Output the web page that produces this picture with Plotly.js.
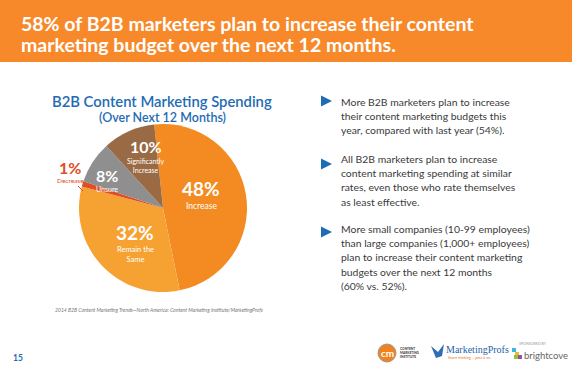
<!DOCTYPE html>
<html><head><meta charset="utf-8">
<script src="https://cdn.plot.ly/plotly-3.0.1.min.js"></script>
<style>html,body{margin:0;padding:0;background:#fff}#chart{width:572px;height:375px}</style>
</head><body><div id="chart"></div>
<script>
// ---- data ----
const categories = ['Increase', 'Remain the Same', 'Decrease', 'Unsure', 'Significantly Increase'];
const labelLines = [['Increase'], ['Remain the', 'Same'], ['Decrease'], ['Unsure'], ['Significantly', 'Increase']];
const shares = [48, 32, 1, 8, 10];
const headline = ['58% of B2B marketers plan to increase their content', 'marketing budget over the next 12 months.'];
const chartTitle = 'B2B Content Marketing Spending';
const chartSubtitle = '(Over Next 12 Months)';
const bullets = [
  ['More B2B marketers plan to increase', 'their content marketing budgets this', 'year, compared with last year (54%).'],
  ['All B2B marketers plan to increase', 'content marketing spending at similar', 'rates, even those who rate themselves', 'as least effective.'],
  ['More small companies (10-99 employees)', 'than large companies (1,000+ employees)', 'plan to increase their content marketing', 'budgets over the next 12 months', '(60% vs. 52%).']
];
const sourceNote = '2014 B2B Content Marketing Trends\u2014North America: Content Marketing Institute/MarketingProfs';
const pageNumber = '15';

// ---- styles ----
const W = 572, H = 375;
const px = x => x / W, py = y => 1 - y / H;
const sliceColors = ['#F38B22', '#F6A232', '#E04E27', '#8F8F8F', '#9A6A44'];
const orange = '#F7892B', blue = '#1E6CB3', textGray = '#3a3a3a';
const labelFont = 'Lato, "Open Sans", sans-serif';
const sized = (t, s) => '<span style="font-size:' + s + 'px">' + t + '</span>';

// label layout for each slice: x centre, and y of the seam between percent and sub-label
const labelX = [201, 135, 70, 107, 146.5];
const seamY = [200.5, 244, 176.5, 184.5, 156];
const labelColor = ['#fff', '#fff', '#E04E27', '#fff', '#fff'];
const pctSize = [19, 19, 16, 16, 16];
const subSize = [8.5, 7.5, 6.5, 7, 7];

const annotations = [];
annotations.push({
  text: headline.map(t => sized(t, 19.5)).join('<br>'), xref: 'paper', yref: 'paper', x: px(21), y: py(34),
  xanchor: 'left', yanchor: 'middle', showarrow: false, align: 'left', borderpad: 0, borderwidth: 0,
  font: {family: 'Lato, sans-serif', size: 16.2, color: '#fff', weight: 700}
});
annotations.push({text: chartTitle, xref: 'paper', yref: 'paper', x: px(162), y: py(101),
  xanchor: 'center', yanchor: 'middle', showarrow: false, borderwidth: 0,
  font: {family: labelFont, size: 14.8, color: blue, weight: 600}});
annotations.push({text: chartSubtitle, xref: 'paper', yref: 'paper', x: px(162), y: py(117),
  xanchor: 'center', yanchor: 'middle', showarrow: false, borderwidth: 0,
  font: {family: labelFont, size: 12.5, color: blue, weight: 600}});

shares.forEach((v, i) => {
  annotations.push({
    text: '<b>' + v + '%</b>', xref: 'paper', yref: 'paper', x: px(labelX[i]), y: py(seamY[i]),
    xanchor: 'center', yanchor: 'bottom', showarrow: false, borderpad: 0, borderwidth: 0,
    font: {family: labelFont, size: pctSize[i], color: labelColor[i]}
  });
  annotations.push({
    text: labelLines[i].join('<br>'), xref: 'paper', yref: 'paper', x: px(labelX[i]), y: py(seamY[i] + 0.6),
    xanchor: 'center', yanchor: 'top', showarrow: false, align: 'center', borderpad: 0, borderwidth: 0,
    font: {family: labelFont, size: subSize[i], color: labelColor[i]}
  });
});

const bulletCenters = [115.5, 180, 257];
bullets.forEach((lines, i) => annotations.push({
  text: lines.map(t => sized(t, 10.4)).join('<br>'), xref: 'paper', yref: 'paper', x: px(341), y: py(bulletCenters[i]),
  xanchor: 'left', yanchor: 'middle', showarrow: false, align: 'left', borderpad: 0, borderwidth: 0,
  font: {family: labelFont, size: 10.9, color: textGray}
}));
annotations.push({text: '<i>' + sourceNote + '</i>', xref: 'paper', yref: 'paper', x: px(159), y: py(310),
  xanchor: 'center', yanchor: 'middle', showarrow: false,
  font: {family: labelFont, size: 5.1, color: '#777'}});
annotations.push({text: '<b>' + pageNumber + '</b>', xref: 'paper', yref: 'paper', x: px(18), y: py(358),
  xanchor: 'center', yanchor: 'middle', showarrow: false,
  font: {family: labelFont, size: 8.5, color: blue}});
// logos (text parts)
annotations.push({text: '<b>cm</b>', xref: 'paper', yref: 'paper', x: px(387), y: py(353),
  xanchor: 'center', yanchor: 'middle', showarrow: false, font: {family: labelFont, size: 10, color: '#fff'}});
annotations.push({text: '<b>CONTENT<br>MARKETING<br>INSTITUTE</b>', xref: 'paper', yref: 'paper', x: px(398), y: py(353),
  xanchor: 'left', yanchor: 'middle', showarrow: false, align: 'left', font: {family: labelFont, size: 3.2, color: '#333'}});
annotations.push({text: 'MarketingProfs', xref: 'paper', yref: 'paper', x: px(444), y: py(349),
  xanchor: 'left', yanchor: 'middle', showarrow: false, font: {family: '"Liberation Serif", serif', size: 10, color: '#1d5fa8'}});
annotations.push({text: 'Smart thinking ... pass it on.', xref: 'paper', yref: 'paper', x: px(446), y: py(357.5),
  xanchor: 'left', yanchor: 'middle', showarrow: false, font: {family: labelFont, size: 3.6, color: '#E8772A'}});
annotations.push({text: 'SPONSORED BY', xref: 'paper', yref: 'paper', x: px(533), y: py(343),
  xanchor: 'center', yanchor: 'middle', showarrow: false, font: {family: labelFont, size: 3.6, color: '#999'}});
annotations.push({text: 'brightcove', xref: 'paper', yref: 'paper', x: px(522), y: py(355),
  xanchor: 'left', yanchor: 'middle', showarrow: false, font: {family: labelFont, size: 9.5, color: '#666'}});

const shapes = [
  {type: 'rect', xref: 'paper', yref: 'paper', x0: 0, x1: 1, y0: py(62), y1: 1, fillcolor: orange, line: {width: 0}, layer: 'below'},
  {type: 'line', xref: 'paper', yref: 'paper', x0: px(78), y0: py(186), x1: px(83), y1: py(191), line: {color: '#E04E27', width: 1}},
  {type: 'circle', xref: 'paper', yref: 'paper', x0: px(378), x1: px(396), y0: py(344), y1: py(362), fillcolor: '#F0831F', line: {color: '#9a9a9a', width: 1}},
  {type: 'path', xref: 'paper', yref: 'paper', fillcolor: '#2f6db5', line: {width: 0},
    path: `M ${px(431)},${py(346)} L ${px(438)},${py(352)} L ${px(444)},${py(344)} L ${px(442)},${py(356)} L ${px(436)},${py(358)} Z`},
  {type: 'rect', xref: 'paper', yref: 'paper', x0: px(512), x1: px(516), y0: py(348), y1: py(352), fillcolor: '#3bb6e0', line: {width: 0}},
  {type: 'rect', xref: 'paper', yref: 'paper', x0: px(515), x1: px(519), y0: py(352), y1: py(356), fillcolor: '#f5b82e', line: {width: 0}},
  {type: 'rect', xref: 'paper', yref: 'paper', x0: px(518), x1: px(522), y0: py(355), y1: py(359), fillcolor: '#9b4fa0', line: {width: 0}},
  {type: 'rect', xref: 'paper', yref: 'paper', x0: px(514), x1: px(518), y0: py(355), y1: py(359), fillcolor: '#8cc63f', line: {width: 0}}
];
[101, 164, 232].forEach(y => shapes.push({type: 'path', xref: 'paper', yref: 'paper', fillcolor: blue, line: {width: 0},
  path: `M ${px(321)},${py(y - 5.5)} L ${px(332)},${py(y)} L ${px(321)},${py(y + 5.5)} Z`}));

const trace = {
  type: 'pie', labels: categories, values: shares, sort: false, direction: 'clockwise', rotation: -6,
  marker: {colors: sliceColors, line: {width: 0}}, textinfo: 'none', hoverinfo: 'label+value',
  domain: {x: [px(79), px(247)], y: [py(292), py(124)]}, showlegend: false
};

Plotly.newPlot('chart', [trace], {
  width: W, height: H, margin: {l: 0, r: 0, t: 0, b: 0},
  paper_bgcolor: '#fff', plot_bgcolor: '#fff', showlegend: false,
  annotations: annotations, shapes: shapes
}, {staticPlot: true, displayModeBar: false});
</script></body></html>
